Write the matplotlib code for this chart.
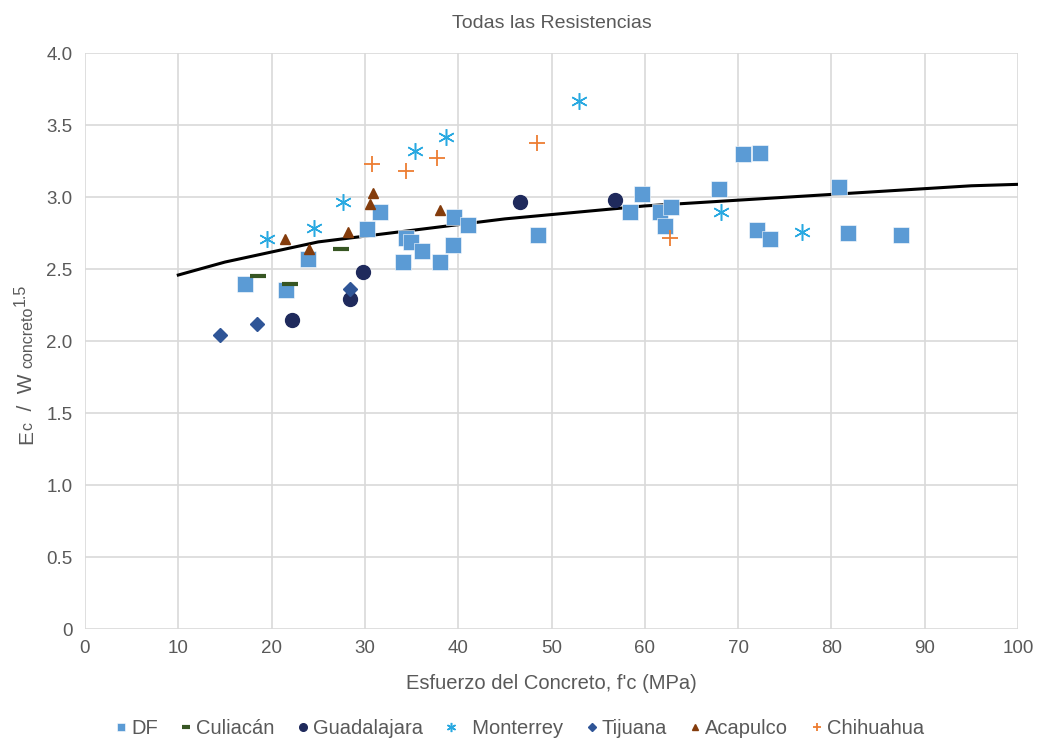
import matplotlib.pyplot as plt
import numpy as np

plt.rcParams['font.family'] = ['Liberation Sans', 'DejaVu Sans']

# datos
df_x = [17.2, 21.5, 23.9, 30.2, 31.65, 34.1, 34.4, 34.9, 36.1, 38.05, 39.4, 39.55, 41.0,
        48.55, 58.4, 59.7, 61.6, 62.2, 62.8, 67.9, 70.5, 72.0, 72.3, 73.4, 80.8, 81.8, 87.5]
df_y = [2.40, 2.355, 2.57, 2.78, 2.90, 2.55, 2.72, 2.69, 2.63, 2.55, 2.67, 2.86, 2.81,
        2.74, 2.90, 3.02, 2.90, 2.80, 2.93, 3.06, 3.30, 2.77, 3.31, 2.71, 3.07, 2.75, 2.74]

cul_x = [18.5, 22.0, 27.4]
cul_y = [2.45, 2.40, 2.64]

gua_x = [22.15, 28.4, 29.8, 46.6, 56.8]
gua_y = [2.15, 2.29, 2.48, 2.97, 2.98]

mty_x = [19.5, 24.5, 27.7, 35.4, 38.7, 53.0, 68.2, 76.8]
mty_y = [2.71, 2.79, 2.97, 3.32, 3.42, 3.67, 2.90, 2.76]

tij_x = [14.5, 18.4, 28.4]
tij_y = [2.04, 2.12, 2.36]

aca_x = [21.4, 24.0, 28.2, 30.55, 30.9, 38.0]
aca_y = [2.71, 2.64, 2.76, 2.95, 3.03, 2.91]

chi_x = [30.8, 34.4, 37.7, 48.4, 62.7]
chi_y = [3.23, 3.18, 3.27, 3.38, 2.72]

curva_x = [10, 15, 20, 25, 30, 35, 40, 45, 50, 55, 60, 65, 70, 75, 80, 85, 90, 95, 100]
curva_y = [2.46, 2.55, 2.62, 2.69, 2.73, 2.77, 2.81, 2.85, 2.88, 2.91, 2.94, 2.96,
           2.98, 3.00, 3.02, 3.04, 3.06, 3.08, 3.09]

gris = '#595959'
W, H = 1039, 741

fig = plt.figure(figsize=(W / 100, H / 100), dpi=100)
ax = fig.add_axes([0.0818, 0.151, 0.898, 0.777])

ax.plot(curva_x, curva_y, color='black', lw=2.2, zorder=2)

ax.plot(df_x, df_y, 's', color='#5B9BD5', ms=11, mec='white', mew=0.4, ls='none', label='DF', zorder=3)
ax.plot(cul_x, cul_y, '_', color='#375623', ms=11, mew=3, ls='none', label='Culiacán', zorder=3)
ax.plot(gua_x, gua_y, 'o', color='#1F2A5C', ms=10, ls='none', label='Guadalajara', zorder=3)
ax.plot(mty_x, mty_y, marker=(6, 2, 0), color='#29A9E1', ms=12, mew=1.1, ls='none', label='  Monterrey', zorder=3)
ax.plot(tij_x, tij_y, 'D', color='#2F5597', ms=7, ls='none', label='Tijuana', zorder=3)
ax.plot(aca_x, aca_y, '^', color='#843C0C', ms=7.5, ls='none', label='Acapulco', zorder=3)
ax.plot(chi_x, chi_y, '+', color='#ED7D31', ms=11, mew=1.3, ls='none', label='Chihuahua', zorder=3)

ax.set_xlim(0, 100)
ax.set_ylim(0, 4)
ax.set_xticks(np.arange(0, 101, 10))
ax.set_yticks(np.arange(0, 4.01, 0.5))
ax.set_yticklabels(['0', '0.5', '1.0', '1.5', '2.0', '2.5', '3.0', '3.5', '4.0'])
ax.grid(True, color='#D9D9D9', lw=1.2)
ax.set_axisbelow(True)
for s in ax.spines.values():
    s.set_visible(False)
ax.tick_params(length=0, labelsize=13.5, colors=gris)
ax.tick_params(axis='x', pad=8)
ax.tick_params(axis='y', pad=9)

ax.set_title('Todas las Resistencias', fontsize=14, color=gris, pad=18)
ax.set_xlabel('Esfuerzo del Concreto, f\'c (MPa)', fontsize=14.5, color=gris, labelpad=12)

# etiqueta del eje y armada por partes (subindices en linea, como en Excel)
partes = [('E', 15, 0), ('c', 11.5, 0), ('  /  W ', 15, 0), ('concreto', 11.5, 0), ('1.5', 11.5, -7)]
renderer = fig.canvas.get_renderer()
y_px = 444
for txt, size, dx in partes:
    t = fig.text((32 + dx) / W, 1 - y_px / H, txt, rotation=90, rotation_mode='anchor',
                 ha='left', va='baseline', fontsize=size, color=gris)
    y_px -= t.get_window_extent(renderer).height

leg = fig.legend(loc='lower center', bbox_to_anchor=(0.5, -0.02), ncol=7, frameon=False,
                 fontsize=14.5, markerscale=0.55, handlelength=0.6, handletextpad=0.2,
                 columnspacing=1.1, labelcolor=gris)

fig.savefig('out.png', dpi=100)
